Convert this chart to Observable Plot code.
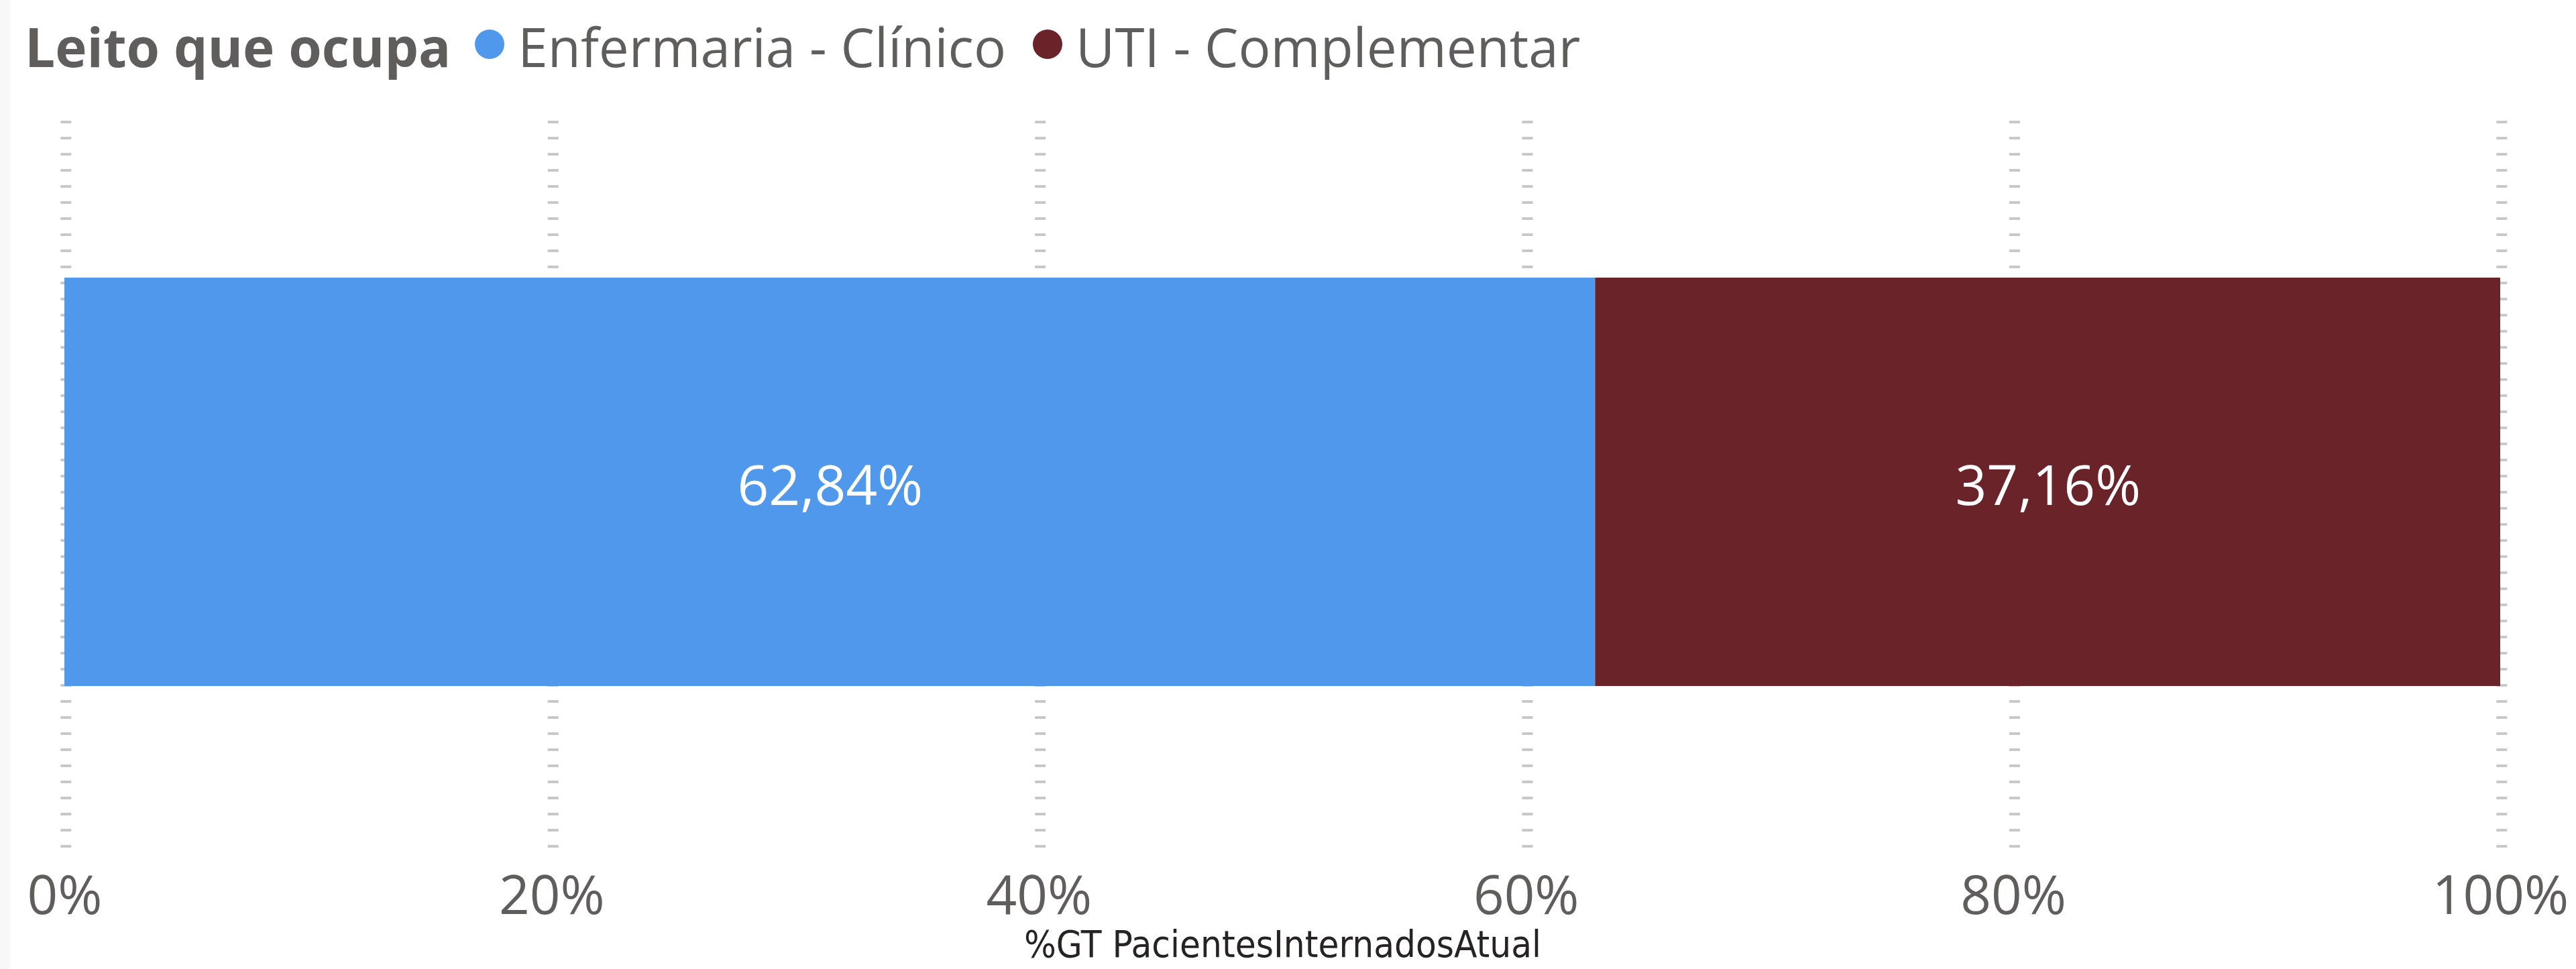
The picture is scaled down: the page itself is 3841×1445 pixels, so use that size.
<!DOCTYPE html>
<html>
<head>
<meta charset="utf-8">
<script src="https://cdn.jsdelivr.net/npm/d3@7"></script>
<script src="https://cdn.jsdelivr.net/npm/@observablehq/plot@0.6"></script>
<style>
  html, body { margin: 0; padding: 0; background: #ffffff; }
  body { width: 3841px; height: 1445px; position: relative; overflow: hidden; font-family: "Open Sans", "Noto Sans", sans-serif; }
  #edge { position: absolute; left: 0; top: 0; width: 15px; height: 1445px; background: #f8f8f8; }
  #legend { position: absolute; left: 37px; top: 29px; display: flex; align-items: center; height: 80px; font-size: 80px; line-height: 80px; color: #605E5C; white-space: nowrap; }
  #legend .title { font-weight: 700; margin-right: 36px; }
  #legend .item { display: flex; align-items: center; margin-right: 40px; }
  #legend .sw { width: 44px; height: 44px; border-radius: 50%; margin-right: 20px; margin-top: -6px; }
  #chart { position: absolute; left: 0; top: 0; }
</style>
</head>
<body>
<div id="edge"></div>
<div id="chart"></div>
<div id="legend"></div>
<script>
// ---- data ----
const legendTitle = "Leito que ocupa";
const categories = ["Enfermaria - Clínico", "UTI - Complementar"];
const values = [62.84, 37.16];
const colors = ["#4F98EC", "#6A2328"];
const tickValues = [0, 20, 40, 60, 80, 100];
const xTitle = "%GT PacientesInternadosAtual";
const rowName = "Leito";

const data = categories.map((c, i) => ({row: rowName, category: c, value: values[i]}));
const ptBR = d3.formatLocale({decimal: ",", thousands: ".", grouping: [3], currency: ["R$", ""]});
const fmt = ptBR.format(".2f");

// ---- legend ----
const legend = document.getElementById("legend");
const t = document.createElement("span");
t.className = "title";
t.textContent = legendTitle;
legend.appendChild(t);
categories.forEach((c, i) => {
  const it = document.createElement("span");
  it.className = "item";
  const sw = document.createElement("span");
  sw.className = "sw";
  sw.style.background = colors[i];
  const lab = document.createElement("span");
  lab.textContent = c;
  it.appendChild(sw);
  it.appendChild(lab);
  legend.appendChild(it);
});

// ---- chart ----
const chart = Plot.plot({
  width: 3841,
  height: 1445,
  marginLeft: 96,
  marginRight: 113,
  marginTop: 172,
  marginBottom: 180,
  style: {fontFamily: "'Open Sans', 'Noto Sans', sans-serif", background: "transparent"},
  x: {domain: [0, 100], ticks: tickValues, label: null},
  y: {domain: [rowName], paddingInner: 0, paddingOuter: 0.396, axis: null},
  color: {domain: categories, range: colors},
  marks: [
    Plot.ruleX(tickValues, {x: d => d + 0.05, stroke: "#c8c8c8", strokeWidth: 16, strokeDasharray: "4,20", strokeDashoffset: -8}),
    Plot.barX(data, Plot.stackX({x: "value", y: "row", fill: "category"})),
    Plot.text(data, Plot.stackX({x: "value", y: "row", text: d => fmt(d.value) + "%", fill: "white", fontSize: 82, dy: 8})),
    Plot.axisX({ticks: tickValues, tickFormat: d => d + "%", tickSize: 0, tickPadding: 41, fontSize: 80, color: "#605E5C", label: null}),
    Plot.text([xTitle], {frameAnchor: "bottom", dy: 122, text: d => d, fontSize: 56, fontWeight: 500, fill: "#252423", fontFamily: "'DejaVu Sans Condensed', Roboto, sans-serif", lineAnchor: "top"})
  ]
});
document.getElementById("chart").appendChild(chart);
</script>
</body>
</html>
